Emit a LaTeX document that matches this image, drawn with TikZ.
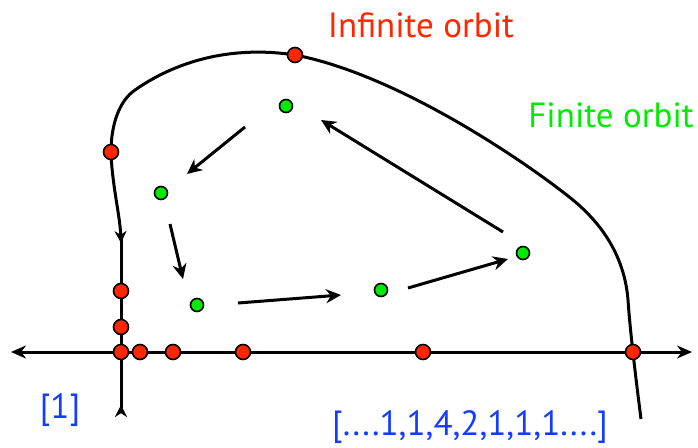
\documentclass[tikz,border=0pt]{standalone}
\usepackage{fontspec}
\setmainfont{PT Sans}
\usetikzlibrary{arrows.meta}
\definecolor{inf}{RGB}{255,38,0}
\definecolor{fin}{RGB}{0,235,0}
\definecolor{seq}{RGB}{20,60,255}
\tikzset{
  reddot/.style={circle,draw=black,line width=1.6pt,fill=inf,minimum size=15pt,inner sep=0pt},
  greendot/.style={circle,draw=black,line width=1.6pt,fill=fin,minimum size=13pt,inner sep=0pt},
  orbitarrow/.style={line width=3pt,-{Stealth[length=15pt,width=14pt]}},
  axisline/.style={line width=3pt},
  lbl/.style={font=\fontsize{35}{36}\selectfont,inner sep=0pt}
}
\begin{document}
\begin{tikzpicture}[x=1pt,y=-1pt]
\useasboundingbox (0,0) rectangle (698,447);
% axes
\coordinate (axL) at (11,352);
\coordinate (axR) at (692,352);
\coordinate (vTop) at (121,238);
\coordinate (vBot) at (121,417);
\draw[axisline,{Stealth[length=15pt,width=13pt]}-{Stealth[length=15pt,width=13pt]}] (axL) -- (axR);
\draw[axisline,-{Stealth[length=12pt,width=12pt,reversed]}] (vTop) -- (vBot);
% infinite orbit curve
\coordinate (c0) at (641,419);
\coordinate (c1) at (628,300);
\coordinate (c2) at (573,200);
\coordinate (c3) at (295,55);
\coordinate (c3b) at (135,90);
\coordinate (c4) at (111,152);
\coordinate (c5) at (121,243);
\draw[axisline,-{Stealth[length=12pt,width=12pt]}]
  (c0) .. controls (636,380) and (630,330) .. (c1)
       .. controls (625,262) and (607,228) .. (c2)
       .. controls (530,165) and (400,75) .. (c3)
       .. controls (230,45) and (175,62) .. (c3b)
       .. controls (119,101) and (111,125) .. (c4)
       .. controls (112,185) and (120,215) .. (c5);
% red dots
\node[reddot] (r1) at (c3) {};
\node[reddot] (r2) at (c4) {};
\node[reddot] (r3) at (121,291) {};
\node[reddot] (r4) at (121,327) {};
\node[reddot] (r5) at (121,352) {};
\node[reddot] (r6) at (140,352) {};
\node[reddot] (r7) at (173,352) {};
\node[reddot] (r8) at (243,352) {};
\node[reddot] (r9) at (423,352) {};
\node[reddot] (r10) at (633,352) {};
% green dots
\node[greendot] (g1) at (286,106) {};
\node[greendot] (g2) at (161,193) {};
\node[greendot] (g3) at (197,305) {};
\node[greendot] (g4) at (381,290) {};
\node[greendot] (g5) at (523,253) {};
% finite orbit arrows
\coordinate (a1s) at (245,127); \coordinate (a1e) at (187,174);
\coordinate (a2s) at (170,224); \coordinate (a2e) at (183,279);
\coordinate (a3s) at (238,303); \coordinate (a3e) at (341,295);
\coordinate (a4s) at (408,288); \coordinate (a4e) at (508,259);
\coordinate (a5s) at (503,232); \coordinate (a5e) at (321,120);
\draw[orbitarrow] (a1s) -- (a1e);
\draw[orbitarrow] (a2s) -- (a2e);
\draw[orbitarrow] (a3s) -- (a3e);
\draw[orbitarrow] (a4s) -- (a4e);
\draw[orbitarrow] (a5s) -- (a5e);
% labels
\node[lbl,text=inf,anchor=base] (tinf) at (421,37) {Infinite orbit};
\node[lbl,text=fin,anchor=base east] (tfin) at (694,127) {Finite orbit};
\node[lbl,text=seq,anchor=base] (tone) at (60,418) {[1]};
\node[lbl,text=seq,anchor=base] (tseq) at (470,435) {[....1,1,4,2,1,1,1....]};
\end{tikzpicture}
\end{document}
